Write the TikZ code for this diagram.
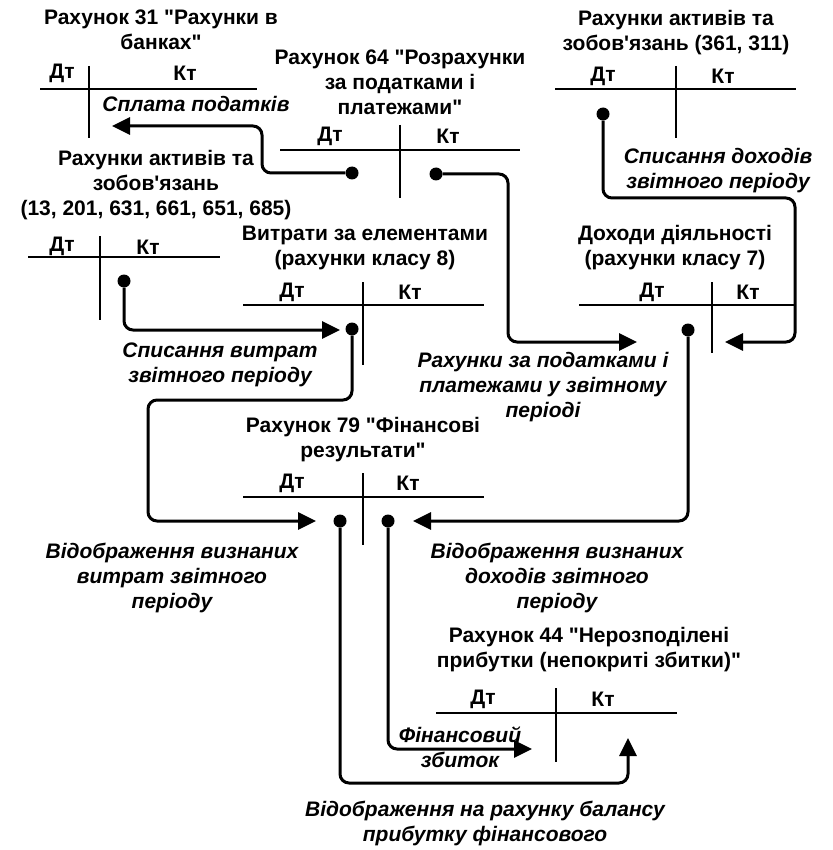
\documentclass[tikz,border=0pt]{standalone}
\usepackage{fontspec}
\setmainfont{Liberation Sans}[Ligatures=TeXOff]
\usetikzlibrary{arrows.meta}

\tikzset{
    title/.style={font=\bfseries\fontsize{21}{25}\selectfont, align=center, inner sep=0pt},
    side/.style={font=\bfseries\fontsize{21}{25}\selectfont, inner sep=0pt},
    note/.style={font=\bfseries\itshape\fontsize{21}{25}\selectfont, align=center, inner sep=0pt},
    tline/.style={line width=1.6pt},
    flow/.style={line width=3pt, rounded corners=9pt, -{Triangle[length=18pt,width=17pt]}},
    dot/.style={circle, fill, inner sep=0pt, minimum size=13pt},
}

\begin{document}
\begin{tikzpicture}[x=1pt,y=-1pt]
        \useasboundingbox (0,0) rectangle (832,850);
        
        %Accounts
        %Account 31
        \node[title] (t31) at (161,30) {Рахунок 31 "Рахунки в\\банках"};
        \node[side] (dt31) at (62,73) {Дт};
        \node[side] (kt31) at (185,73) {Кт};
        \draw[tline] (40,89) -- (257,89);
        \draw[tline] (89,66) -- (89,138);
        
        %Account 64
        \node[title] (t64) at (400,82) {Рахунок 64 "Розрахунки\\за податками і\\платежами"};
        \node[side] (dt64) at (330,136) {Дт};
        \node[side] (kt64) at (448,136) {Кт};
        \draw[tline] (280,150) -- (520,150);
        \draw[tline] (400,125) -- (400,198);
        
        %Assets and liabilities (361, 311)
        \node[title] (tact2) at (676,33) {Рахунки активів та\\зобов'язань (361, 311)};
        \node[side] (dtact2) at (603,76) {Дт};
        \node[side] (ktact2) at (723,76) {Кт};
        \draw[tline] (555,89) -- (796,89);
        \draw[tline] (676,66) -- (676,138);
        
        %Assets and liabilities (13, 201, ...)
        \node[title] (tact1) at (156,185) {Рахунки активів та\\зобов'язань\\(13, 201, 631, 661, 651, 685)};
        \node[side] (dtact1) at (62,246) {Дт};
        \node[side] (ktact1) at (148,247) {Кт};
        \draw[tline] (28,257) -- (220,257);
        \draw[tline] (100,236) -- (100,320);
        
        %Class 8
        \node[title] (t8) at (365,248) {Витрати за елементами\\(рахунки класу 8)};
        \node[side] (dt8) at (292,292) {Дт};
        \node[side] (kt8) at (410,292) {Кт};
        \draw[tline] (243,305) -- (484,305);
        \draw[tline] (363,282) -- (363,365);
        
        %Class 7
        \node[title] (t7) at (675,248) {Доходи діяльності\\(рахунки класу 7)};
        \node[side] (dt7) at (652,292) {Дт};
        \node[side] (kt7) at (748,292) {Кт};
        \draw[tline] (579,305) -- (795,305);
        \draw[tline] (712,282) -- (712,353);
        
        %Account 79
        \node[title] (t79) at (363,440) {Рахунок 79 "Фінансові\\результати"};
        \node[side] (dt79) at (292,483) {Дт};
        \node[side] (kt79) at (408,483) {Кт};
        \draw[tline] (243,497) -- (484,497);
        \draw[tline] (363,473) -- (363,545);
        
        %Account 44
        \node[title] (t44) at (589,650) {Рахунок 44 "Нерозподілені\\прибутки (непокриті збитки)"};
        \node[side] (dt44) at (483,699) {Дт};
        \node[side] (kt44) at (603,699) {Кт};
        \draw[tline] (436,713) -- (677,713);
        \draw[tline] (556,688) -- (556,762);
        
        
        %Dots and arrow ends
        \node[dot] (d64a) at (352,173) {};
        \node[dot] (d64b) at (436,174) {};
        \node[dot] (dact2) at (603,114) {};
        \node[dot] (dact1) at (124,281) {};
        \node[dot] (d8) at (352,329) {};
        \node[dot] (d7) at (688,330) {};
        \node[dot] (d79a) at (340,521) {};
        \node[dot] (d79b) at (388,521) {};
        
        \coordinate (e31) at (112,126);
        \coordinate (e7d) at (637,342);
        \coordinate (e7k) at (725,342);
        \coordinate (e8) at (340,330);
        \coordinate (e79d) at (316,521);
        \coordinate (e79k) at (413,521);
        \coordinate (e44d) at (532,749);
        \coordinate (e44k) at (628,738);
        
        
        %Edges
        \draw[flow] (d64a) -| (262,126) -- (e31);
        
        \draw[flow] (d64b) -| (508,342) -- (e7d);
        
        \draw[flow] (dact2) |- (795,198) |- (e7k);
        
        \draw[flow] (dact1) |- (e8);
        
        \draw[flow] (d8) |- (148,400) |- (e79d);
        
        \draw[flow] (d7) |- (e79k);
        
        \draw[flow] (d79a) |- (628,783) -- (e44k);
        
        \draw[flow] (d79b) |- (e44d);
        
        
        %Labels
        \node[note] (ntax) at (196,104) {Сплата податків};
        \node[note] (ninc) at (718,171) {Списання доходів\\звітного періоду};
        \node[note] (ntaxp) at (543,387) {Рахунки за податками і\\платежами у звітному\\періоді};
        \node[note] (nexp) at (220,365) {Списання витрат\\звітного періоду};
        \node[note] (nexp79) at (172,578) {Відображення визнаних\\витрат звітного\\періоду};
        \node[note] (ninc79) at (557,578) {Відображення визнаних\\доходів звітного\\періоду};
        \node[note] (nloss) at (460,747) {Фінансовий\\збиток};
        \node[note] (nprof) at (485,823) {Відображення на рахунку балансу\\прибутку фінансового};
        
\end{tikzpicture}
\end{document}
